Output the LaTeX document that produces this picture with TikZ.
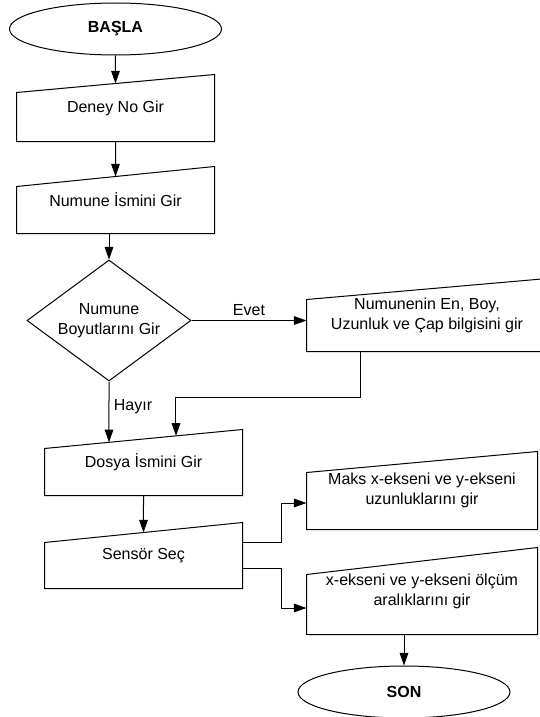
\documentclass[tikz,border=0pt]{standalone}
\usepackage{fontspec}
\setmainfont{Liberation Sans}
\usetikzlibrary{shapes.geometric,arrows.meta}
\tikzset{
  kutu/.style={rectangle, inner sep=0pt, align=center, font=\fontsize{12}{15}\selectfont},
  uc/.style={ellipse, draw, minimum width=159pt, minimum height=39pt, font=\bfseries\fontsize{12}{15}\selectfont},
  karar/.style={diamond, draw, aspect=1.36, inner sep=0pt, minimum width=123pt, minimum height=90.75pt, align=center, font=\fontsize{12}{15}\selectfont},
  oku/.style={-{Triangle[length=9.5pt,width=6.5pt]}},
}
\begin{document}
\begin{tikzpicture}[x=0.75pt, y=-0.75pt, line width=0.75pt]
\useasboundingbox (0,0) rectangle (539,717);
% sol sutun
\node[uc] (basla) at (115.5,29) {BAŞLA};
\node[kutu, minimum width=147.75pt, minimum height=49.5pt] (deney) at (115.5,108) {Deney No Gir};
\node[kutu, minimum width=147.75pt, minimum height=49.5pt] (isim) at (115.5,200) {Numune İsmini Gir};
\node[karar] (boyut) at (109,320.5) {Numune\\Boyutlarını Gir};
\node[kutu, minimum width=147.75pt, minimum height=48.75pt] (dosya) at (143.5,462.5) {Dosya İsmini Gir};
\node[kutu, minimum width=147.75pt, minimum height=48.75pt] (sensor) at (143.5,555.5) {Sensör Seç};
% sag sutun
\node[kutu, minimum width=180pt, minimum height=54pt] (ebat) at (427,315) {Numunenin En, Boy,\\Uzunluk ve Çap bilgisini gir};
\node[kutu, minimum width=172.5pt, minimum height=57.75pt] (maks) at (422,490.5) {Maks x-ekseni ve y-ekseni\\uzunluklarını gir};
\node[kutu, minimum width=172.5pt, minimum height=64.5pt] (aralik) at (422,591) {x-ekseni ve y-ekseni ölçüm\\aralıklarını gir};
\node[uc] (son) at (404,692) {SON};
% egik ustlu kutular
\foreach \n/\s in {deney/13.5,isim/15,ebat/15.75,dosya/14.25,sensor/15,maks/15.75,aralik/20.25}{
  \coordinate (\n-sol) at ([yshift=-\s pt]\n.north west);
  \draw (\n.south west) -- (\n.south east) -- (\n.north east) -- (\n-sol) -- cycle;
}
\coordinate (t1) at (intersection of basla.north--basla.south and deney-sol--deney.north east);
\coordinate (t2) at (intersection of deney.north--deney.south and isim-sol--isim.north east);
\coordinate (t3) at (intersection of boyut.north--boyut.south and dosya-sol--dosya.north east);
\coordinate (t4) at (intersection of 176,400--176,500 and dosya-sol--dosya.north east);
\coordinate (t5) at (intersection of dosya.north--dosya.south and sensor-sol--sensor.north east);
% oklar
\draw[oku] (basla) -- (t1);
\draw[oku] (deney.south) -- (t2);
\draw[oku] (isim.south -| boyut.north) -- (boyut.north);
\draw[oku] (boyut.east) -- node[above] {\fontsize{12}{15}\selectfont Evet} (boyut.east -| ebat.west);
\draw[oku] (boyut.south) -- node[right, pos=0.42] {\fontsize{12}{15}\selectfont Hayır} (t3);
\draw[oku] (ebat.south -| 360,0) -- ++(0,46) -| (t4);
\draw[oku] (dosya.south) -- (t5);
\draw[oku] (sensor.east |- 0,542) -- (281,542) |- (maks.west |- 0,503);
\draw[oku] (sensor.east |- 0,568) -- (281,568) |- (aralik.west |- 0,608);
\draw[oku] (aralik.south -| son.north) -- (son);
\end{tikzpicture}
\end{document}
